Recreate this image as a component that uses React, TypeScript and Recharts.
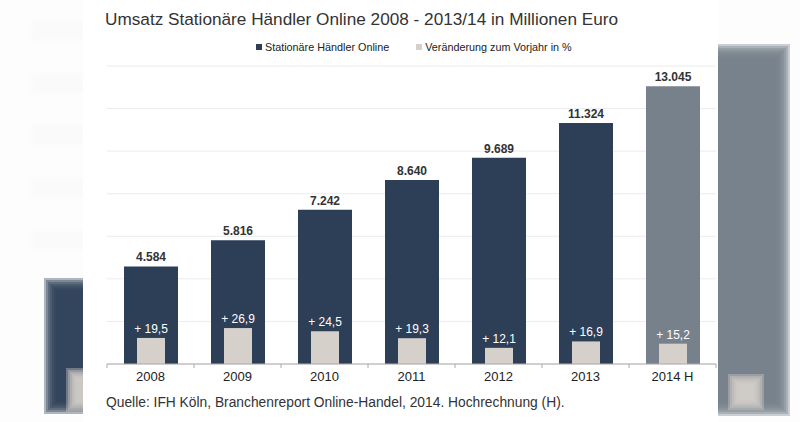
import React from 'react';
import { BarChart, Bar, XAxis, YAxis, CartesianGrid, LabelList, Cell } from 'recharts';

const years = ['2008', '2009', '2010', '2011', '2012', '2013', '2014 H'];
const umsatz = [4584, 5816, 7242, 8640, 9689, 11324, 13045];
const veraenderung = [19.5, 26.9, 24.5, 19.3, 12.1, 16.9, 15.2];
const umsatzTicks = [0, 2000, 4000, 6000, 8000, 10000, 12000, 14000];

const data = years.map((year, i) => ({ year, umsatz: umsatz[i], pct: veraenderung[i] }));

const FONT = '"Liberation Sans", Arial, sans-serif';
const DARK = '#2d3e57';
const FORECAST = '#77818c';
const LIGHT = '#d6d0cb';

const fmtThousands = (v: any) => String(v).replace(/\B(?=(\d{3})+(?!\d))/g, '.');
const fmtPct = (v: any) => '+ ' + Number(v).toFixed(1).replace('.', ',');

const BAND = 87;

const YearTick = (props: any) => {
  const { x, y, payload, index } = props;
  const last = index === years.length - 1;
  return (
    <g>
      <line x1={x - BAND / 2} y1={y - 8} x2={x - BAND / 2} y2={y - 4} stroke="#aaa" />
      {last && <line x1={x + BAND / 2} y1={y - 8} x2={x + BAND / 2} y2={y - 4} stroke="#aaa" />}
      <text x={x} y={y + 9} textAnchor="middle" fontSize={13} fill="#222" fontFamily={FONT}>
        {payload.value}
      </text>
    </g>
  );
};

const topLabel = (fmt: (v: any) => string, style: any, offset: number) => (props: any) => {
  const { x, y, width, value } = props;
  return (
    <text x={x + width / 2} y={y - offset} textAnchor="middle" {...style}>
      {fmt(value)}
    </text>
  );
};

const Legend = () => (
  <div style={{ position: 'absolute', left: 256, top: 41, display: 'flex', gap: 27, fontSize: 10.8, color: '#222', fontFamily: FONT, whiteSpace: 'nowrap' }}>
    <span style={{ display: 'flex', alignItems: 'center', gap: 3 }}>
      <span style={{ width: 6, height: 6, background: DARK, display: 'inline-block' }} />
      Stationäre Händler Online
    </span>
    <span style={{ display: 'flex', alignItems: 'center', gap: 3 }}>
      <span style={{ width: 6, height: 6, background: LIGHT, display: 'inline-block' }} />
      Veränderung zum Vorjahr in %
    </span>
  </div>
);

// soft-edged block: stacked translucent layers, each a little smaller
const Soft = ({ left, top, width, height, color, step = 2, n = 7 }: any) => (
  <>
    {Array.from({ length: n }, (_, i) => (
      <div
        key={i}
        style={{
          position: 'absolute',
          left: left - (n - 1 - i) * step,
          top: top - (n - 1 - i) * step,
          width: width + 2 * (n - 1 - i) * step,
          height: height + 2 * (n - 1 - i) * step,
          background: color,
          opacity: 0.38,
        }}
      />
    ))}
  </>
);

export default function App() {
  return (
    <div style={{ position: 'absolute', left: 0, top: 0, width: 800, height: 422, background: '#fff', overflow: 'hidden', fontFamily: FONT }}>
      {/* blurred side panels */}
      <div style={{ position: 'absolute', left: 0, top: 0, width: 83, height: 422, overflow: 'hidden', background: '#fdfdfd' }}>
        {[30, 83, 135, 188, 240].map((t) => (
          <Soft key={t} left={38} top={t - 4} width={50} height={8} color="#fbfbfb" step={2} n={5} />
        ))}
        <Soft left={56} top={290} width={50} height={112} color={DARK} step={2} n={7} />
        <Soft left={76} top={378} width={20} height={24} color={LIGHT} step={2} n={6} />
      </div>
      <div style={{ position: 'absolute', left: 718, top: 0, width: 82, height: 422, overflow: 'hidden', background: '#fdfdfd' }}>
        <Soft left={-20} top={58} width={78} height={344} color={FORECAST} step={2} n={8} />
        <Soft left={20} top={384} width={16} height={16} color={LIGHT} step={2} n={6} />
      </div>

      <div style={{ position: 'absolute', left: 105, top: 9, fontSize: 17.2, color: '#333', whiteSpace: 'nowrap' }}>
        Umsatz Stationäre Händler Online 2008 - 2013/14 in Millionen Euro
      </div>
      <Legend />

      <div style={{ position: 'absolute', left: 0, top: 0 }}>
        <BarChart width={800} height={422} data={data} margin={{ top: 66, right: 84, left: 107, bottom: 28 }}>
          <CartesianGrid xAxisId="a" yAxisId="v" vertical={false} stroke="#ececec" />
          <XAxis xAxisId="a" dataKey="year" tick={<YearTick />} tickLine={false} axisLine={{ stroke: '#aaa' }} interval={0} />
          <XAxis xAxisId="b" dataKey="year" hide />
          <YAxis yAxisId="v" domain={[0, 14000]} ticks={umsatzTicks} hide />
          <YAxis yAxisId="p" domain={[0, 223]} hide />
          <Bar xAxisId="a" yAxisId="v" dataKey="umsatz" barSize={54} isAnimationActive={false}>
            {data.map((d, i) => (
              <Cell key={d.year} fill={i === data.length - 1 ? FORECAST : DARK} />
            ))}
            <LabelList dataKey="umsatz" content={topLabel(fmtThousands, { fontSize: 12, fontWeight: 'bold', fill: '#333', fontFamily: FONT }, 5)} />
          </Bar>
          <Bar xAxisId="b" yAxisId="p" dataKey="pct" barSize={28} fill={LIGHT} isAnimationActive={false}>
            <LabelList dataKey="pct" content={topLabel(fmtPct, { fontSize: 12, fill: '#fff', fontFamily: FONT }, 5)} />
          </Bar>
        </BarChart>
      </div>

      <div style={{ position: 'absolute', left: 106, top: 395, fontSize: 13.8, color: '#333', whiteSpace: 'nowrap' }}>
        Quelle: IFH Köln, Branchenreport Online-Handel, 2014. Hochrechnung (H).
      </div>
    </div>
  );
}
